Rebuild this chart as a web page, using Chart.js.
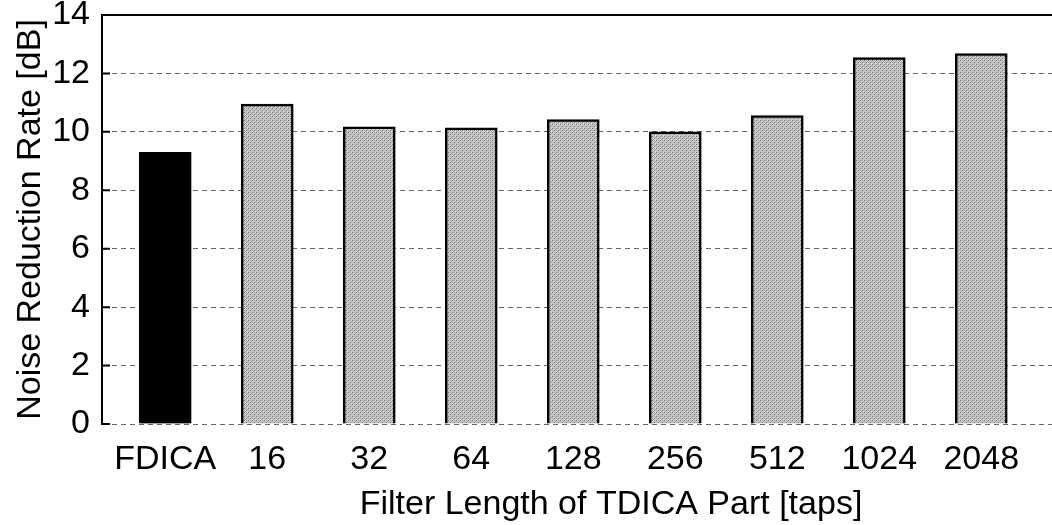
<!DOCTYPE html>
<html>
<head>
<meta charset="utf-8">
<script src="https://cdn.jsdelivr.net/npm/chart.js@4/dist/chart.umd.min.js"></script>
<style>
  html, body { margin: 0; padding: 0; overflow: hidden; background: #fff; }
  #wrap { width: 1120px; height: 525px; }
</style>
</head>
<body>
<div id="wrap"><canvas id="c" width="1120" height="525"></canvas></div>
<script>
// Noise reduction rate for FDICA alone and for each TDICA filter length
const categories = ['FDICA', '16', '32', '64', '128', '256', '512', '1024', '2048'];
const reductionDb = [9.30, 10.95, 10.17, 10.14, 10.42, 10.00, 10.56, 12.54, 12.68];
const yTicks = [0, 2, 4, 6, 8, 10, 12, 14];

const FONT = "'Liberation Sans', Arial, Helvetica, sans-serif";

// Fine halftone fill for the TDICA bars
function stipple() {
  const p = document.createElement('canvas');
  p.width = 4; p.height = 4;
  const g = p.getContext('2d');
  g.fillStyle = '#cfcfcf';
  g.fillRect(0, 0, 4, 4);
  g.fillStyle = '#6e6e6e';
  g.fillRect(0, 0, 1, 1);
  g.fillRect(2, 2, 1, 1);
  g.fillStyle = '#a8a8a8';
  g.fillRect(2, 0, 1, 1);
  g.fillRect(0, 2, 1, 1);
  g.fillRect(1, 3, 1, 1);
  g.fillRect(3, 1, 1, 1);
  return g.createPattern(p, 'repeat');
}

const ctx = document.getElementById('c').getContext('2d');
const pattern = stipple();

// Top frame line and inward tick marks on the value axis
const frame = {
  id: 'frame',
  afterDraw(chart) {
    const { ctx, chartArea, scales } = chart;
    const y = scales.y;
    ctx.save();
    ctx.strokeStyle = '#000';
    ctx.lineWidth = 2;
    ctx.beginPath();
    ctx.moveTo(chartArea.left, chartArea.top);
    ctx.lineTo(chartArea.right, chartArea.top);
    yTicks.forEach(v => {
      const py = y.getPixelForValue(v);
      ctx.moveTo(chartArea.left, py);
      ctx.lineTo(chartArea.left + 8, py);
    });
    ctx.stroke();
    ctx.restore();
  }
};

new Chart(ctx, {
  type: 'bar',
  data: {
    datasets: [{
      data: categories.map((c, i) => ({ x: i, y: reductionDb[i] })),
      backgroundColor: categories.map((c, i) => i === 0 ? '#000' : pattern),
      borderColor: '#000',
      borderWidth: 2.5,
      barThickness: 52
    }]
  },
  options: {
    responsive: false,
    animation: false,
    layout: { padding: { top: 15, right: 0, bottom: 0, left: 0 } },
    plugins: { legend: { display: false }, tooltip: { enabled: false } },
    scales: {
      x: {
        type: 'linear',
        min: -0.62,
        max: 9.36,
        offset: false,
        afterBuildTicks: s => { s.ticks = categories.map((c, i) => ({ value: i })); },
        afterFit: s => { s.height = 101; s.paddingLeft = 0; s.paddingRight = 0; },
        grid: { display: false, drawTicks: false },
        border: { display: false },
        ticks: {
          autoSkip: false,
          maxRotation: 0,
          padding: 15,
          color: '#000',
          font: { family: FONT, size: 34 },
          callback: v => categories[v] ?? ''
        },
        title: {
          display: true,
          text: 'Filter Length of TDICA Part [taps]',
          color: '#000',
          font: { family: FONT, size: 34 },
          padding: { top: 0, bottom: 0 }
        }
      },
      y: {
        min: 0,
        max: 14,
        afterBuildTicks: s => { s.ticks = yTicks.map(v => ({ value: v })); },
        afterFit: s => { s.width = 102; s.paddingTop = 0; s.paddingBottom = 0; },
        grid: {
          color: '#666',
          lineWidth: 1,
          drawTicks: false
        },
        border: { display: true, color: '#000', width: 2, dash: [5, 4] },
        ticks: {
          padding: 12,
          color: '#000',
          font: { family: FONT, size: 34 }
        },
        title: {
          display: true,
          text: 'Noise Reduction Rate [dB]',
          color: '#000',
          font: { family: FONT, size: 34 },
          padding: { top: 10, bottom: 0 }
        }
      }
    }
  },
  plugins: [frame]
});
</script>
</body>
</html>
